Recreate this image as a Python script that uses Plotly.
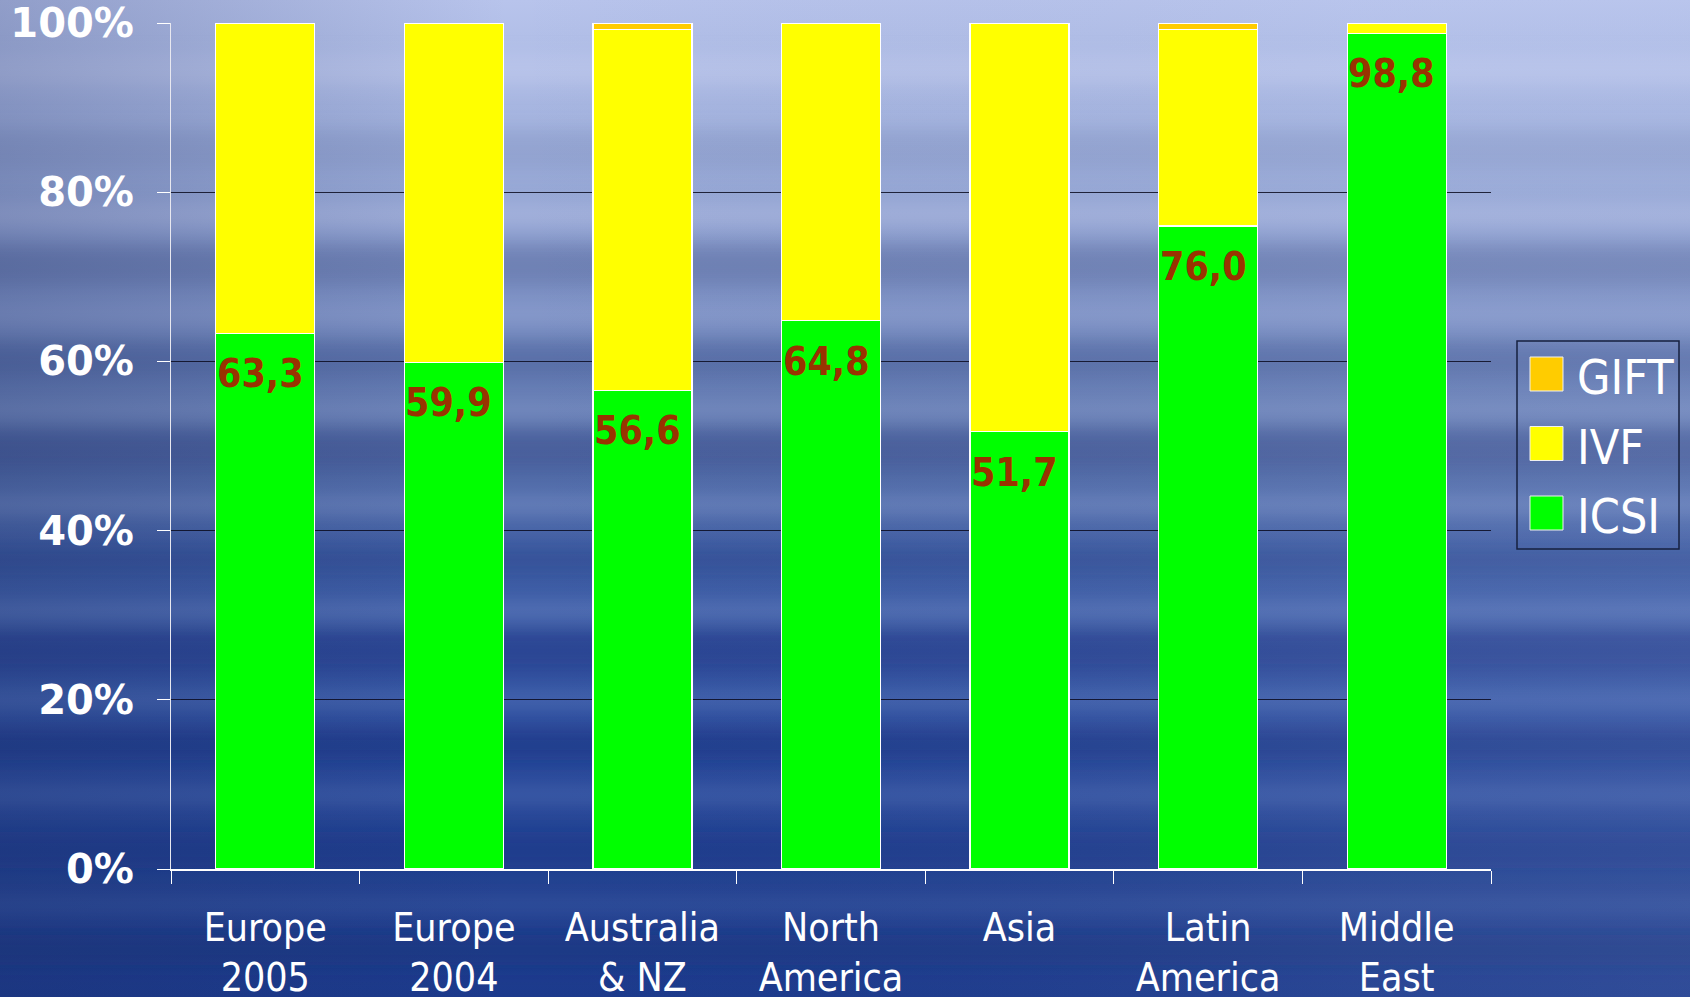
import base64
import plotly.graph_objects as go

# ---- data -------------------------------------------------------------
regions = ["Europe<br>2005", "Europe<br>2004", "Australia<br>& NZ", "North<br>America",
           "Asia", "Latin<br>America", "Middle<br>East"]
icsi = [63.3, 59.9, 56.6, 64.8, 51.7, 76.0, 98.8]
gift = [0.0, 0.0, 0.8, 0.0, 0.0, 0.8, 0.0]
ivf = [round(100 - a - b, 1) for a, b in zip(icsi, gift)]
icsi_labels = [f"{v:.1f}".replace(".", ",") for v in icsi]
y_ticks = [0, 20, 40, 60, 80, 100]

series = [("ICSI", icsi, "#00FF00"), ("IVF", ivf, "#FFFF00"), ("GIFT", gift, "#FFCC00")]

W, H = 1690, 997
L, R, T, B = 171, 199, 23, 128
FONT = "'DejaVu Sans Condensed', Tahoma, 'DejaVu Sans', sans-serif"
FONT_WIDE = "'DejaVu Sans', Tahoma, sans-serif"

# ---- streaked blue backdrop (SVG) ------------------------------------
streaks = [
    # y, height, colour, opacity
    (70, 30, "#d0d8f4", 0.3), (150, 40, "#8090c0", 0.4), (215, 22, "#c0c8ec", 0.4),
    (265, 40, "#5a6ca0", 0.5), (315, 18, "#a0b0dc", 0.4), (360, 35, "#485c98", 0.5),
    (410, 16, "#9aaad8", 0.4), (450, 40, "#3c5090", 0.5), (505, 20, "#8ea2d4", 0.4),
    (560, 30, "#2c4890", 0.5), (610, 18, "#7890cc", 0.45), (650, 40, "#1e3a88", 0.5),
    (700, 18, "#6a86c8", 0.4), (745, 30, "#1a3480", 0.5), (795, 20, "#5a78bc", 0.4),
    (850, 35, "#1a3684", 0.45), (905, 16, "#4a68b0", 0.4), (950, 30, "#16307c", 0.45),
]
rects = "".join(
    f'<rect x="-100" y="{y - h / 2}" width="{W + 200}" height="{h}" fill="{c}" opacity="{o}"/>'
    for y, h, c, o in streaks
)
svg = f'''<svg xmlns="http://www.w3.org/2000/svg" width="{W}" height="{H}" viewBox="0 0 {W} {H}">
<defs>
<linearGradient id="v" x1="0" y1="0" x2="0" y2="1">
<stop offset="0" stop-color="#b8c4ec"/>
<stop offset="0.15" stop-color="#a0b0dc"/>
<stop offset="0.3" stop-color="#7c90c4"/>
<stop offset="0.45" stop-color="#5670aa"/>
<stop offset="0.6" stop-color="#3a5aa4"/>
<stop offset="0.75" stop-color="#2a4a9c"/>
<stop offset="0.9" stop-color="#22408f"/>
<stop offset="1" stop-color="#1c3a8c"/>
</linearGradient>
<linearGradient id="h" x1="0" y1="0" x2="1" y2="0">
<stop offset="0" stop-color="#1a2a60" stop-opacity="0.25"/>
<stop offset="0.3" stop-color="#1a2a60" stop-opacity="0"/>
<stop offset="0.8" stop-color="#c0ccf0" stop-opacity="0.08"/>
<stop offset="1" stop-color="#c0ccf0" stop-opacity="0.12"/>
</linearGradient>
<filter id="b" x="-10%" y="-50%" width="120%" height="200%"><feGaussianBlur stdDeviation="14 9"/></filter>
</defs>
<rect width="{W}" height="{H}" fill="url(#v)"/>
<g filter="url(#b)">{rects}</g>
<rect width="{W}" height="{H}" fill="url(#h)"/>
</svg>'''
bg_src = "data:image/svg+xml;base64," + base64.b64encode(svg.encode()).decode()

# ---- figure -----------------------------------------------------------
fig = go.Figure()
for name, vals, col in series:
    fig.add_trace(go.Bar(
        x=regions, y=vals, name=name, marker_color=col,
        marker_line=dict(color="white", width=1.2), showlegend=False,
        hoverinfo="x+y+name",
    ))

for reg, v, lab in zip(regions, icsi, icsi_labels):
    fig.add_annotation(
        x=reg, y=v, text=f"<b>{lab}</b>", showarrow=False, yanchor="top",
        xshift=-5, yshift=-16,
        font=dict(family=FONT, size=39, color="#993300"),
    )

# hand-drawn legend box with large swatches
pw, ph = W - L - R, H - T - B
def px(x):
    return (x - L) / pw
def py(y):
    return 1 - (y - T) / ph

fig.add_shape(type="rect", xref="paper", yref="paper",
              x0=px(1517), x1=px(1679), y0=py(549), y1=py(341),
              line=dict(color="#16213f", width=1.5), fillcolor="rgba(0,0,0,0)")
for i, (name, vals, col) in enumerate(reversed(series)):
    cy = 374 + i * 69.5
    fig.add_shape(type="rect", xref="paper", yref="paper",
                  x0=px(1530), x1=px(1563), y0=py(cy + 17), y1=py(cy - 17),
                  line=dict(color="#f0f0f0", width=1), fillcolor=col)
    fig.add_annotation(xref="paper", yref="paper", x=px(1575), y=py(cy + 3),
                       text=name, showarrow=False, xanchor="left", yanchor="middle",
                       font=dict(family=FONT, size=48, color="white"))

fig.add_layout_image(
    source=bg_src, xref="paper", yref="paper", x=-L / pw, y=1 + T / ph,
    sizex=W / pw, sizey=H / ph, sizing="stretch", layer="below", xanchor="left", yanchor="top",
)

fig.update_layout(
    width=W, height=H, barmode="stack", bargap=0.475,
    margin=dict(l=L, r=R, t=T, b=B),
    paper_bgcolor="#2a4a9c", plot_bgcolor="rgba(0,0,0,0)",
    font=dict(family=FONT, color="white"),
    xaxis=dict(
        automargin=False,
        tickson="boundaries", ticks="outside", ticklen=13, tickcolor="white", tickwidth=1.2,
        showline=True, linecolor="white", linewidth=1.5, showgrid=False,
        tickfont=dict(family=FONT, size=39, color="white"), ticklabelstandoff=23,
    ),
    yaxis=dict(
        automargin=False, ticklabeloverflow="allow",
        range=[0, 100], tickvals=y_ticks, ticktext=[f"<b>{v}%</b>" for v in y_ticks],
        ticks="outside", ticklen=13, tickcolor="white", tickwidth=1.2,
        showline=True, linecolor="#e8e8f0", linewidth=1.2,
        showgrid=True, gridcolor="rgba(10,10,30,0.85)", gridwidth=1.3, zeroline=False,
        tickfont=dict(family=FONT_WIDE, size=40, color="white"), ticklabelstandoff=15,
    ),
)

fig.write_html("out.html")
